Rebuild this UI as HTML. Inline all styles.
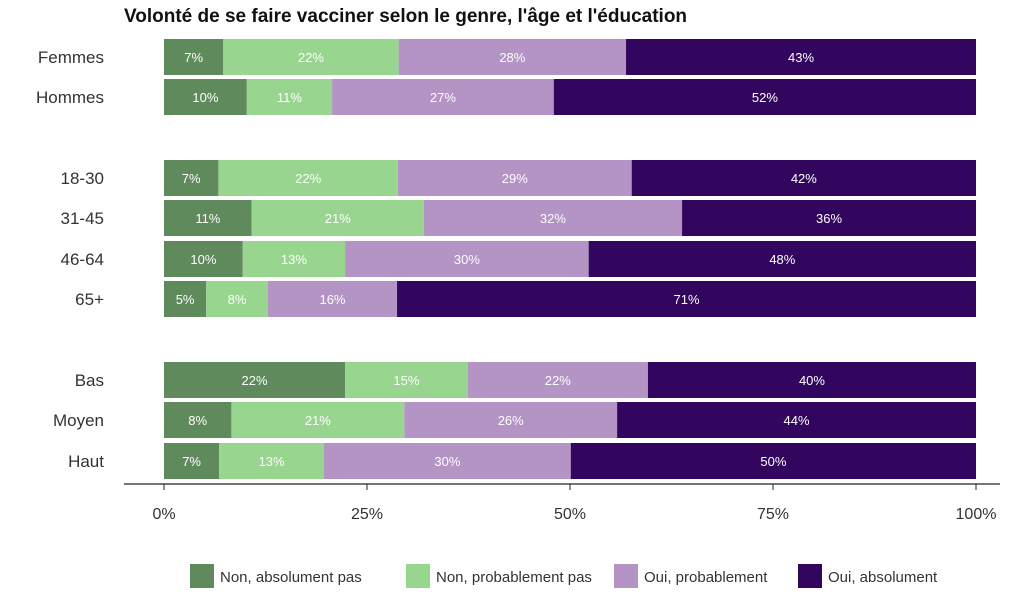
<!DOCTYPE html>
<html><head><meta charset="utf-8"><style>
body{margin:0;background:#fff;}
svg text{font-family:"Liberation Sans",sans-serif;}
</style></head><body>
<svg width="1024" height="605" xmlns="http://www.w3.org/2000/svg">
<text x="124" y="22" font-size="19" font-weight="bold" fill="#111">Volonté de se faire vacciner selon le genre, l'âge et l'éducation</text>
<g id="bars"></g>
<line x1="124" y1="484" x2="1000" y2="484" stroke="#222" stroke-width="1.2"/>
<g id="xaxis"></g>
<g id="legend"></g>
</svg>
<script>
const categories=["Femmes","Hommes","18-30","31-45","46-64","65+","Bas","Moyen","Haut"];
const seriesNames=["Non, absolument pas","Non, probablement pas","Oui, probablement","Oui, absolument"];
const nonAbs=[7.3,10.2,6.7,10.8,9.7,5.2,22.3,8.3,6.8];
const nonProb=[21.6,10.5,22.1,21.2,12.6,7.6,15.1,21.3,12.9];
const ouiProb=[28.0,27.3,28.8,31.8,30.0,15.9,22.2,26.2,30.4];
const ouiAbs=[43.1,52.0,42.4,36.2,47.7,71.3,40.4,44.2,49.9];
const ticks=[0,25,50,75,100];
const tickLabels=["0%","25%","50%","75%","100%"];
const colors=["#5f8a5c","#98d58f","#b493c5","#32065f"];
const rowTop=[39,79,160,200,241,281,362,402,443];
const x=v=>164+v/100*812;
const NS="http://www.w3.org/2000/svg";
const bars=document.getElementById("bars");
const series=[nonAbs,nonProb,ouiProb,ouiAbs];
categories.forEach((c,i)=>{
  const y=rowTop[i],h=36;
  const t=document.createElementNS(NS,"text");
  t.setAttribute("x",104);t.setAttribute("y",y+h/2+6);t.setAttribute("text-anchor","end");
  t.setAttribute("font-size","17");t.setAttribute("fill","#333");t.textContent=c;
  
  
  bars.appendChild(t);
  let cum=0;
  series.forEach((s,k)=>{
    const v=s[i];
    const r=document.createElementNS(NS,"rect");
    r.setAttribute("x",x(cum));r.setAttribute("y",y);r.setAttribute("width",x(cum+v)-x(cum));r.setAttribute("height",h);
    r.setAttribute("fill",colors[k]);
    
    
    bars.appendChild(r);
    const l=document.createElementNS(NS,"text");
    l.setAttribute("x",(x(cum)+x(cum+v))/2);l.setAttribute("y",y+h/2+5);l.setAttribute("text-anchor","middle");
    l.setAttribute("font-size","13");l.setAttribute("fill","#fff");l.textContent=Math.round(v)+"%";
    
    
    bars.appendChild(l);
    cum+=v;
  });
});
const xa=document.getElementById("xaxis");
ticks.forEach((t,i)=>{
  const ln=document.createElementNS(NS,"line");
  ln.setAttribute("x1",x(t));ln.setAttribute("x2",x(t));ln.setAttribute("y1",484);ln.setAttribute("y2",490);ln.setAttribute("stroke","#222");
  
  
  xa.appendChild(ln);
  const tx=document.createElementNS(NS,"text");
  tx.setAttribute("x",x(t));tx.setAttribute("y",519);tx.setAttribute("text-anchor","middle");tx.setAttribute("font-size","16");tx.setAttribute("fill","#333");
  tx.textContent=tickLabels[i];
  
  
  xa.appendChild(tx);
});
const lg=document.getElementById("legend");
const lx=[190,406,614,798];
seriesNames.forEach((n,k)=>{
  const r=document.createElementNS(NS,"rect");
  r.setAttribute("x",lx[k]);r.setAttribute("y",564);r.setAttribute("width",24);r.setAttribute("height",24);r.setAttribute("fill",colors[k]);
  
  
  lg.appendChild(r);
  const t=document.createElementNS(NS,"text");
  t.setAttribute("x",lx[k]+30);t.setAttribute("y",582);t.setAttribute("font-size","15");t.setAttribute("fill","#333");t.textContent=n;
  
  
  lg.appendChild(t);
});
</script>
</body></html>
